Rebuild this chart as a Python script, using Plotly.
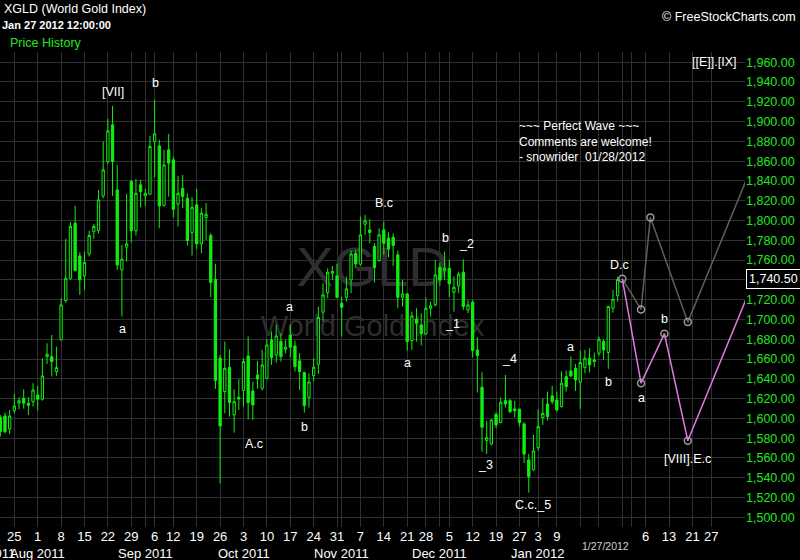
import plotly.graph_objects as go

# ---------------- data ----------------
# trading-day index: 0 = Jul 20 2011 ... 132 = Jan 27 2012
opens = [1601.1,1602.4,1589.3,1607.8,1615.3,1620.3,1615.3,1616.9,1623.6,1619.3,
         1662.4,1662.4,1647.3,1679.3,1719.0,1741.6,1797.3,1764.2,1744.0,1766.2,
         1788.8,1789.8,1824.9,1859.6,1896.7,1831.0,1750.1,1773.0,1839.4,1789.5,
         1836.0,1824.9,1826.5,1879.8,1875.4,1815.1,1871.4,1861.3,1816.5,1832.6,
         1822.5,1787.8,1815.8,1776.4,1803.0,1784.8,1740.6,1660.8,1627.1,1651.7,
         1603.5,1621.3,1628.1,1663.1,1627.7,1643.9,1630.4,1640.6,1679.3,1664.1,
         1677.9,1669.9,1684.3,1673.2,1658.1,1646.3,1621.3,1643.2,1654.7,1707.3,
         1727.2,1746.7,1744.0,1716.4,1722.4,1739.9,1766.9,1755.8,1796.2,1790.5,
         1773.7,1759.5,1790.5,1782.1,1783.1,1765.2,1722.4,1725.8,1678.6,1700.5,
         1694.5,1685.4,1711.3,1714.7,1752.8,1749.0,1751.7,1727.5,1733.9,1747.7,
         1709.6,1717.4,1669.2,1631.4,1577.5,1574.1,1604.1,1595.7,1617.9,1617.9,
         1609.5,1609.5,1594.4,1558.0,1547.9,1570.4,1600.8,1614.6,1622.7,1618.6,
         1611.9,1642.2,1647.9,1650.6,1636.5,1651.3,1660.8,1659.1,1665.8,1677.6,
         1666.5,1711.3,1724.1]
highs = [1603.4,1605.8,1608.5,1624.7,1621.3,1629.4,1621.3,1635.5,1632.8,1660.8,
         1675.9,1684.3,1672.6,1721.4,1781.4,1798.3,1814.8,1767.9,1768.6,1789.8,
         1796.6,1831.0,1879.8,1902.7,1915.9,1856.2,1775.3,1826.9,1841.1,1841.7,
         1841.1,1832.0,1885.5,1921.9,1881.5,1871.4,1887.6,1864.7,1845.1,1846.1,
         1827.5,1823.5,1832.0,1812.4,1817.5,1787.1,1756.1,1664.1,1677.6,1669.9,
         1629.4,1639.5,1660.8,1682.7,1637.2,1658.1,1669.2,1680.0,1687.7,1694.5,
         1686.0,1679.3,1694.5,1678.6,1665.8,1647.3,1645.6,1660.8,1713.0,1736.6,
         1751.7,1754.1,1756.1,1723.1,1743.3,1769.6,1770.3,1804.0,1805.7,1801.3,
         1777.0,1792.2,1798.9,1788.1,1787.1,1769.6,1740.0,1726.5,1707.9,1711.3,
         1706.2,1722.4,1718.0,1760.2,1757.5,1768.6,1760.2,1743.3,1748.4,1760.8,
         1719.7,1719.7,1682.0,1646.6,1597.7,1599.1,1606.2,1621.0,1643.9,1619.6,
         1617.6,1609.5,1596.0,1564.0,1583.3,1609.2,1620.3,1627.1,1632.8,1627.1,
         1647.3,1648.3,1662.4,1655.0,1668.5,1669.2,1670.9,1666.5,1682.7,1680.0,
         1713.7,1729.8,1743.3]
lows = [1581.5,1584.9,1584.2,1605.1,1609.2,1609.8,1603.4,1611.9,1607.8,1617.9,
        1655.1,1642.2,1642.9,1678.6,1717.0,1740.0,1748.4,1724.8,1729.9,1763.6,
        1781.4,1787.1,1822.5,1857.2,1824.9,1750.1,1702.9,1758.5,1777.7,1784.8,
        1813.4,1814.7,1825.9,1843.7,1792.2,1814.1,1824.2,1803.0,1793.9,1812.4,
        1774.6,1764.5,1771.0,1766.9,1780.4,1722.4,1629.8,1534.4,1605.1,1601.8,
        1585.6,1608.5,1611.9,1599.1,1598.4,1629.8,1628.1,1639.5,1654.0,1656.4,
        1657.4,1665.8,1661.4,1647.3,1628.7,1605.8,1610.9,1637.2,1644.9,1697.8,
        1721.4,1739.9,1721.4,1682.7,1718.0,1726.5,1751.7,1754.4,1785.5,1777.0,
        1737.3,1758.5,1765.2,1762.9,1754.1,1711.3,1713.0,1668.5,1669.2,1677.6,
        1673.6,1684.3,1702.9,1713.0,1733.9,1739.9,1722.4,1707.9,1726.5,1709.6,
        1706.2,1661.8,1626.1,1566.4,1564.0,1572.8,1590.0,1595.0,1610.9,1605.1,
        1601.1,1591.7,1555.0,1524.9,1547.2,1567.4,1593.4,1597.7,1614.3,1606.8,
        1610.9,1627.1,1641.6,1627.7,1609.5,1645.6,1646.3,1651.7,1663.1,1659.1,
        1650.0,1706.9,1718.0]
closes = [1586.6,1586.6,1602.4,1612.5,1617.9,1615.3,1613.2,1628.7,1619.3,1642.9,
          1664.8,1657.4,1651.3,1714.7,1741.6,1793.9,1749.4,1740.0,1757.5,1784.8,
          1793.9,1820.9,1851.2,1890.6,1859.6,1755.1,1760.9,1776.4,1789.5,1827.5,
          1829.3,1827.5,1874.8,1887.6,1814.7,1856.2,1857.9,1811.4,1827.5,1824.2,
          1779.7,1813.4,1776.4,1807.4,1806.3,1737.3,1638.2,1592.3,1650.6,1615.9,
          1616.9,1619.6,1657.4,1615.9,1613.6,1639.9,1654.0,1674.2,1661.4,1683.3,
          1662.4,1671.9,1671.9,1652.3,1647.3,1612.9,1636.8,1651.7,1701.9,1724.8,
          1747.7,1748.4,1722.4,1712.3,1730.9,1766.2,1756.1,1785.5,1799.6,1787.8,
          1752.4,1785.5,1777.0,1771.0,1774.7,1722.4,1725.8,1677.6,1703.6,1696.1,
          1685.4,1711.3,1713.7,1745.0,1739.9,1751.7,1735.9,1732.5,1745.7,1713.0,
          1714.7,1668.5,1663.5,1591.0,1580.5,1598.4,1593.4,1616.3,1614.6,1606.8,
          1607.8,1595.7,1564.0,1541.1,1567.1,1591.7,1605.1,1601.8,1617.0,1608.5,
          1635.5,1632.1,1642.9,1638.9,1656.4,1660.8,1654.0,1657.4,1680.0,1669.2,
          1713.0,1720.4,1740.5]
days = list(range(len(closes)))

# projected wave paths (day index, price)
gray_x = [133, 137, 139, 147, 160]
gray_y = [1741.0, 1710.1, 1803.1, 1697.3, 1846.7]
pink_x = [133, 137, 142, 147, 160]
pink_y = [1741.0, 1635.6, 1685.6, 1577.4, 1726.8]

# axis ticks
week_idx = [3, 8, 13, 18, 23, 28, 33, 37, 42, 47, 52, 57, 62, 67, 72, 77, 82, 87, 91,
            96, 101, 106, 111, 115, 119, 124, 128, 133, 138, 143, 148, 152]
week_lbl = ["25", "1", "8", "15", "22", "29", "6", "12", "19", "26", "3", "10", "17",
            "24", "31", "7", "14", "21", "28", "5", "12", "19", "27", "3", "9", "", "",
            "", "6", "13", "21", "27"]
month_line_idx = [31, 73, 94, 135]
month_idx = [8, 31, 52, 73, 94, 115]
month_lbl = ["Aug 2011", "Sep 2011", "Oct 2011", "Nov 2011", "Dec 2011", "Jan 2012"]
price_ticks = list(range(1500, 1961, 20))
last_price = 1740.5

# wave labels: (text, day index, price)
wave_labels = [
    ("[VII]", 24.2, 1930.3), ("b", 33.1, 1939.4), ("a", 26.1, 1690.1),
    ("A.c", 54.2, 1573.8), ("a", 61.9, 1712.9), ("b", 65.1, 1591.6),
    ("B.c", 82.1, 1817.5), ("b", 95.1, 1782.1), ("_2", 99.7, 1776.3),
    ("_1", 96.6, 1695.1), ("a", 87.0, 1656.3), ("_4", 108.8, 1659.8),
    ("_3", 103.8, 1552.9), ("C.c._5", 113.9, 1512.4), ("a", 122.0, 1672.5),
    ("b", 130.0, 1637.1), ("D.c", 132.3, 1755.1), ("a", 137.0, 1620.3),
    ("b", 142.0, 1700.2), ("[VIII].E.c", 146.9, 1558.6), ("[[E]].[IX]", 152.6, 1960.0),
]

# ---------------- figure ----------------
GREEN = "#11ee11"
AXGREEN = "#22e622"
FONT = "Liberation Sans, Arial, sans-serif"

fig = go.Figure()
fig.add_trace(go.Candlestick(
    x=days, open=opens, high=highs, low=lows, close=closes,
    increasing=dict(line=dict(color=GREEN, width=1), fillcolor="black"),
    decreasing=dict(line=dict(color=GREEN, width=1), fillcolor=GREEN),
    whiskerwidth=0, hoverinfo="skip",
))
fig.add_trace(go.Scatter(x=gray_x, y=gray_y, mode="lines",
                         line=dict(color="#5e5e5e", width=1.5), hoverinfo="skip"))
fig.add_trace(go.Scatter(x=pink_x, y=pink_y, mode="lines",
                         line=dict(color="#e07ae0", width=1.5), hoverinfo="skip"))
fig.add_trace(go.Scatter(x=gray_x[:-1] + pink_x[1:-1], y=gray_y[:-1] + pink_y[1:-1],
                         mode="markers",
                         marker=dict(symbol="circle-open", size=7, color="#9a9a9a",
                                     line=dict(width=1.5)),
                         hoverinfo="skip"))

ann = []
for t, xi, yi in wave_labels:
    ann.append(dict(x=xi, y=yi, xref="x", yref="y", text=t, showarrow=False,
                    font=dict(family=FONT, size=12.5, color="white")))
for t, xi in zip(month_lbl, month_idx):
    ann.append(dict(x=xi, y=-0.055, xref="x", yref="paper", text=t, showarrow=False,
                    yanchor="middle", font=dict(family=FONT, size=13, color="white")))
ann += [
    dict(x=0.0228, y=-0.055, xref="paper", yref="paper", text="Jul 2011", showarrow=False,
         xanchor="right", yanchor="middle", font=dict(family=FONT, size=13, color="white")),
    dict(x=132, y=-0.04, xref="x", yref="paper", text="1/27/2012", showarrow=False,
         xshift=-12, yanchor="middle", font=dict(family=FONT, size=10.5, color="#d0d0d0")),
    dict(x=0.0027, y=1.0905, xref="paper", yref="paper", text="XGLD (World Gold Index)",
         showarrow=False, xanchor="left", yanchor="middle",
         font=dict(family=FONT, size=12.5, color="white")),
    dict(x=0.0, y=1.0568, xref="paper", yref="paper", text="<b>Jan 27 2012 12:00:00</b>",
         showarrow=False, xanchor="left", yanchor="middle",
         font=dict(family=FONT, size=11, color="white")),
    dict(x=0.0107, y=1.019, xref="paper", yref="paper", text="Price History",
         showarrow=False, xanchor="left", yanchor="middle",
         font=dict(family=FONT, size=12.5, color=AXGREEN)),
    dict(x=1.0711, y=1.074, xref="paper", yref="paper", text="© FreeStockCharts.com",
         showarrow=False, xanchor="right", yanchor="middle",
         font=dict(family=FONT, size=12.5, color="white")),
    dict(x=0.694, y=0.863, xref="paper", yref="paper",
         text="~~~ Perfect Wave ~~~<br>Comments are welcome!<br>- snowrider  01/28/2012",
         showarrow=False, xanchor="left", yanchor="top", align="left",
         font=dict(family=FONT, size=12, color="white")),
    dict(x=1.0, y=last_price, xref="paper", yref="y", text=f"{last_price:,.2f}",
         showarrow=False, xanchor="left", yanchor="middle", xshift=1,
         bordercolor="white", borderwidth=1, borderpad=2, bgcolor="black",
         font=dict(family=FONT, size=12.5, color="white")),
]

shapes = [
    dict(type="rect", xref="paper", yref="paper", x0=0.40, x1=0.60, y0=0.51, y1=0.61,
         line=dict(width=0), fillcolor="rgba(0,0,0,0)", layer="between",
         label=dict(text="XGLD", textposition="middle center",
                    font=dict(family="Liberation Sans Narrow, Liberation Sans, sans-serif",
                              size=56, color="#2e2e2e"))),
    dict(type="rect", xref="paper", yref="paper", x0=0.30, x1=0.70, y0=0.40, y1=0.46,
         line=dict(width=0), fillcolor="rgba(0,0,0,0)", layer="between",
         label=dict(text="World Gold Index", textposition="middle center",
                    font=dict(family=FONT, size=29, color="#2e2e2e"))),
]

fig.update_layout(
    width=800, height=560,
    margin=dict(l=0, r=55, t=52, b=33),
    paper_bgcolor="black", plot_bgcolor="black",
    showlegend=False,
    annotations=ann, shapes=shapes,
    xaxis=dict(range=[-0.064, 159.23], rangeslider=dict(visible=False),
               tickmode="array", tickvals=week_idx + month_line_idx,
               ticktext=week_lbl + [""] * len(month_line_idx),
               tickfont=dict(family=FONT, size=13, color="white"),
               showgrid=True, gridcolor="#303030", gridwidth=1,
               zeroline=False, showline=False, ticks=""),
    yaxis=dict(range=[1490.2, 1970.3], side="right",
               tickmode="array", tickvals=price_ticks,
               ticktext=["" if v == 1740 else f"{v:,.2f}" for v in price_ticks],
               tickfont=dict(family=FONT, size=12.5, color=AXGREEN),
               showgrid=True, gridcolor="#303030", gridwidth=1,
               zeroline=False, showline=False, ticks=""),
)

fig.write_html("out.html", config={"displayModeBar": False},
               post_script="document.body.style.margin='0';document.body.style.background='black';")
